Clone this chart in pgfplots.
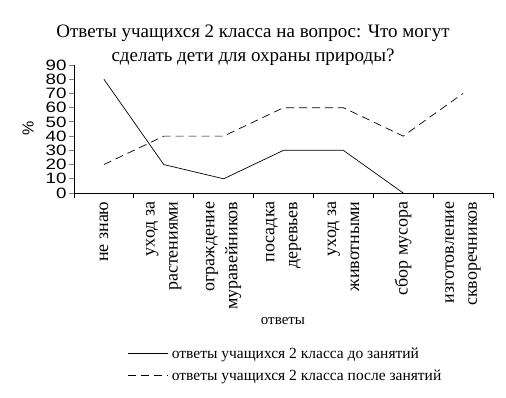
\documentclass[border=0pt]{standalone}
\usepackage{pgfplots}
\pgfplotsset{compat=1.18}
\usepackage{fontspec}
\setmainfont{Liberation Serif}
\newfontfamily\arial{Liberation Sans}
\begin{document}
\begin{tikzpicture}
\useasboundingbox (-74pt,-204pt) rectangle (432pt,193pt);
\begin{axis}[
  at={(0,0)}, anchor=south west,
  scale only axis, width=419pt, height=128pt,
  xmin=-0.5, xmax=6.5, ymin=0, ymax=90,
  axis x line*=bottom, axis y line*=left,
  axis line style={-, line width=0.8pt},
  ytick={0,10,...,90},
  yticklabel={\scalebox{1.25}[1]{\pgfmathprintnumber{\tick}}},
  yticklabel style={font=\arial\fontsize{15}{15}\selectfont, xshift=1pt},
  /pgf/number format/assume math mode=true,
  ytick style={line width=0.8pt},
  major tick length=5pt,
  tick align=outside,
  xtick={0,...,6},
  xticklabels={не знаю, {уход за\\растениями}, {ограждение\\муравейников}, {посадка\\деревьев}, {уход за\\животными}, сбор мусора, {изготовление\\скворечников}},
  xticklabel style={rotate=90, anchor=east, align=right, font=\fontsize{18}{23}\selectfont, yshift=0pt},
  x tick style={draw=none},
  minor xtick={-0.5,0.5,...,6.5},
  minor tick length=5pt,
  minor x tick style={line width=0.8pt, draw=black},
  clip=false,
  legend style={at={(0.1265,-1.19)}, anchor=north west, draw=none, fill=none,
    font=\fontsize{15.5}{17}\selectfont, row sep=6pt, inner sep=0pt},
  legend cell align=left,
  legend image code/.code={\draw[#1] (0pt,0pt) -- (40pt,0pt);},
]
\addplot[black, line width=0.7pt] coordinates {(0,80) (1,20) (2,10) (3,30) (4,30) (5,0)};
\addlegendentry{\hspace{2pt}ответы учащихся 2 класса до занятий}
\addplot[black, line width=0.7pt, dash pattern=on 8pt off 5pt] coordinates {(0,20) (1,40) (2,40) (3,60) (4,60) (5,40) (6,70)};
\addlegendentry{\hspace{2pt}ответы учащихся 2 класса после занятий}
\end{axis}
\node[align=center, font=\fontsize{19}{24}\selectfont] at (179pt,148pt) {Ответы учащихся 2 класса на вопрос: Что могут\\сделать дети для охраны природы?};
\node[font=\fontsize{15}{16}\selectfont] at (209pt,-128pt) {ответы};
\node[rotate=90, font=\arial\fontsize{16}{16}\selectfont] at (-46pt,65pt) {\%};
\end{tikzpicture}
\end{document}
